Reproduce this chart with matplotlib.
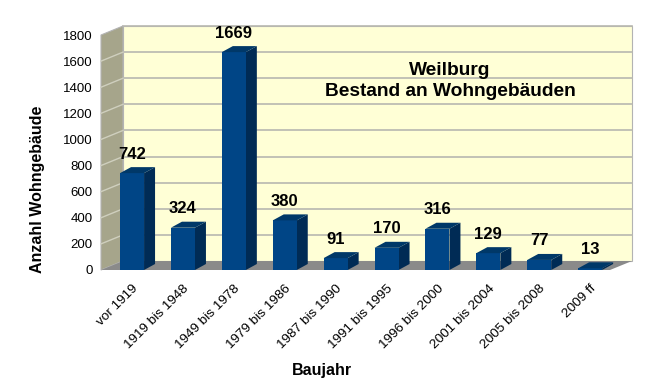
import matplotlib.pyplot as plt
from matplotlib.patches import Polygon
import numpy as np

plt.rcParams['font.family'] = ['Liberation Sans', 'DejaVu Sans']

kategorien = ['vor 1919', '1919 bis 1948', '1949 bis 1978', '1979 bis 1986', '1987 bis 1990',
              '1991 bis 1995', '1996 bis 2000', '2001 bis 2004', '2005 bis 2008', '2009 ff']
anzahl = [742, 324, 1669, 380, 91, 170, 316, 129, 77, 13]
y_ticks = [0, 200, 400, 600, 800, 1000, 1200, 1400, 1600, 1800]

W, H = 661, 391
fig = plt.figure(figsize=(W / 100, H / 100), dpi=100)
ax = fig.add_axes([101 / W, (H - 270) / H, (610 - 101) / W, (270 - 35) / H])
ax.set_xlim(0, 10)
ax.set_ylim(0, 1800)
for s in ax.spines.values():
    s.set_visible(False)

# pixel -> data
px_x = 10 / (610 - 101)
px_y = 1800 / (270 - 35)
DX, DY = 22 * px_x, 9 * px_y        # raumtiefe
BDX, BDY = 11 * px_x, 6 * px_y      # balkentiefe
bw = 24 * px_x
x = np.arange(len(anzahl)) + 0.5 + 0.11


def poly(pts, fc, ec='none', z=1, lw=0.8):
    ax.add_patch(Polygon(pts, closed=True, fc=fc, ec=ec, lw=lw, zorder=z, clip_on=False))


# rückwand, seitenwand, boden
poly([(DX, DY), (10 + DX, DY), (10 + DX, 1800 + DY), (DX, 1800 + DY)], '#ffffd6', '#b3b3b3', 0)
for v in y_ticks[1:]:
    ax.plot([DX, 10 + DX], [v + DY, v + DY], color='#b8b8b0', lw=1.2, zorder=0.5, clip_on=False)
poly([(0, 0), (DX, DY), (DX, 1800 + DY), (0, 1800)], '#a6a58b', '#b3b3b3', 0.6)
for v in y_ticks[1:-1]:
    ax.plot([0, DX], [v, v + DY], color='#cfcfbe', lw=1, zorder=0.7, clip_on=False)
poly([(0, 0), (10, 0), (10 + DX, DY), (DX, DY)], '#8a8a8a', 'none', 0.8)

# balken
bars = ax.bar(x, anzahl, width=bw, color='#004586', zorder=3, clip_on=False)
for b, v in zip(bars, anzahl):
    r = b.get_x() + b.get_width()
    l = b.get_x()
    poly([(r, 0), (r + BDX, BDY), (r + BDX, v + BDY), (r, v)], '#002b55', z=2.9)
    poly([(l, v), (r, v), (r + BDX, v + BDY), (l + BDX, v + BDY)], '#003868', z=3.1)
    ax.annotate(str(v), (b.get_x() + b.get_width() / 2, v), xytext=(0, 19), textcoords='offset pixels',
                ha='center', va='center', fontsize=12, fontweight='bold', zorder=5)

ax.set_yticks(y_ticks)
ax.set_yticklabels([str(t) for t in y_ticks], fontsize=9.5)
ax.set_xticks(x)
ax.set_xticklabels(kategorien, fontsize=9.7, rotation=45, ha='right', rotation_mode='anchor')
ax.tick_params(axis='y', length=0, pad=6)
ax.tick_params(axis='x', length=0, pad=9)

fig.text(38 / W, 1 - 189 / H, 'Anzahl Wohngebäude', rotation=90, ha='center', va='center',
         fontsize=11.5, fontweight='bold')
fig.text(322 / W, 1 - 371 / H, 'Baujahr', ha='center', va='center', fontsize=11.5, fontweight='bold')
fig.text(450 / W, 1 - 75 / H, 'Weilburg', ha='center', va='baseline', fontsize=13.8, fontweight='bold')
fig.text(450 / W, 1 - 96 / H, 'Bestand an Wohngebäuden', ha='center', va='baseline',
         fontsize=13.8, fontweight='bold')

fig.savefig('out.png', dpi=100)
